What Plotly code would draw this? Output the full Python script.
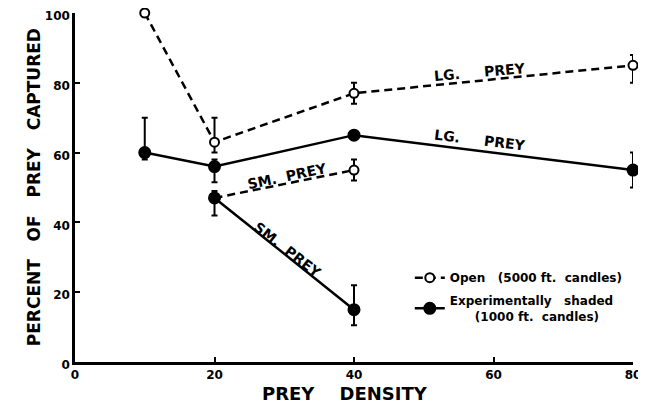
import plotly.graph_objects as go

# prey density (x) and percent captured (y)
density_lg = [10, 20, 40, 80]
open_lg = [100, 63, 77, 85]
open_lg_up = [None, 7, 3, 3]
open_lg_dn = [None, 3, 3, 5]

shaded_lg = [60, 56, 65, 55]
shaded_lg_up = [10, 2, None, 5]
shaded_lg_dn = [2, 4.5, None, 5]

density_sm = [20, 40]
open_sm = [47, 55]
open_sm_up = [None, 3]
open_sm_dn = [None, 3]

shaded_sm = [47, 15]
shaded_sm_up = [2, 7]
shaded_sm_dn = [5, 4.5]

x_ticks = [0, 20, 40, 60, 80]
y_ticks = [0, 20, 40, 60, 80, 100]

FONT = "DejaVu Sans"
INK = "black"


def err(up, dn):
    return dict(type="data", symmetric=False, array=up, arrayminus=dn,
                color=INK, thickness=2, width=3)


def series(x, y, up, dn, filled, name=None, legend=False, rank=1):
    return go.Scatter(
        x=x, y=y, mode="lines+markers", name=name, showlegend=legend,
        legendrank=rank, legendgroup=name, cliponaxis=False,
        line=dict(color=INK, width=2.5, dash="solid" if filled else "8px,5px"),
        marker=dict(
            symbol="circle",
            size=11 if filled else 9,
            color=INK if filled else "white",
            line=dict(color=INK, width=2),
        ),
        error_y=err(up, dn),
    )


fig = go.Figure()
fig.add_trace(series(density_lg, open_lg, open_lg_up, open_lg_dn, False,
                     "Open   (5000 ft.  candles)", True, 1))
fig.add_trace(series(density_sm, open_sm, open_sm_up, open_sm_dn, False))
fig.add_trace(series(density_lg, shaded_lg, shaded_lg_up, shaded_lg_dn, True,
                     "Experimentally   shaded<br>      (1000 ft.  candles)", True, 2))
fig.add_trace(series(density_sm, shaded_sm, shaded_sm_up, shaded_sm_dn, True))

# line labels
labels = [
    ("LG.     PREY", 58, 83, -5),
    ("LG.     PREY", 58, 63.5, 7),
    ("SM.  PREY", 30.5, 53.2, -12),
    ("SM.  PREY", 30.5, 32, 38),
]
for text, x, y, ang in labels:
    fig.add_annotation(x=x, y=y, text=text, textangle=ang, showarrow=False,
                       font=dict(family=FONT, size=14, color=INK, weight="bold"))

# axis titles as annotations so they sit where the original lettering does
title_font = dict(family=FONT, size=17, color=INK, weight="bold")
fig.add_annotation(
    text="PERCENT   OF   PREY   CAPTURED", textangle=-90, showarrow=False,
    xref="paper", yref="paper", x=-0.074, y=0.5, xanchor="center", yanchor="middle",
    font=title_font,
)
fig.add_annotation(
    text="PREY    DENSITY", showarrow=False,
    xref="paper", yref="paper", x=0.484, y=-0.089, xanchor="center", yanchor="middle",
    font=dict(title_font, size=18),
)

axis_common = dict(
    showline=True, linecolor=INK, linewidth=2.5, showgrid=False, zeroline=False,
    ticks="inside", ticklen=5, tickwidth=2, tickcolor=INK, automargin=False,
    ticklabeloverflow="allow",
    tickfont=dict(family=FONT, size=12, color=INK, weight="bold"),
)

fig.update_xaxes(range=[0, 80], tickvals=x_ticks, **axis_common)
# nudge y labels down a touch so "100" stays inside the page
fig.update_yaxes(range=[0, 100], tickvals=y_ticks, ticklabelshift=3, **axis_common)

# page body adds an 8px offset, so the figure is 8px smaller on each side
fig.update_layout(
    width=638, height=398,
    margin=dict(l=67, r=13, t=5, b=44),
    plot_bgcolor="white", paper_bgcolor="white",
    legend=dict(
        x=0.6, y=0.283, xanchor="left", yanchor="top",
        bgcolor="rgba(0,0,0,0)", tracegroupgap=4, itemwidth=30,
        font=dict(family=FONT, size=12, color=INK, weight="bold"),
    ),
)

fig.write_html("out.html")
